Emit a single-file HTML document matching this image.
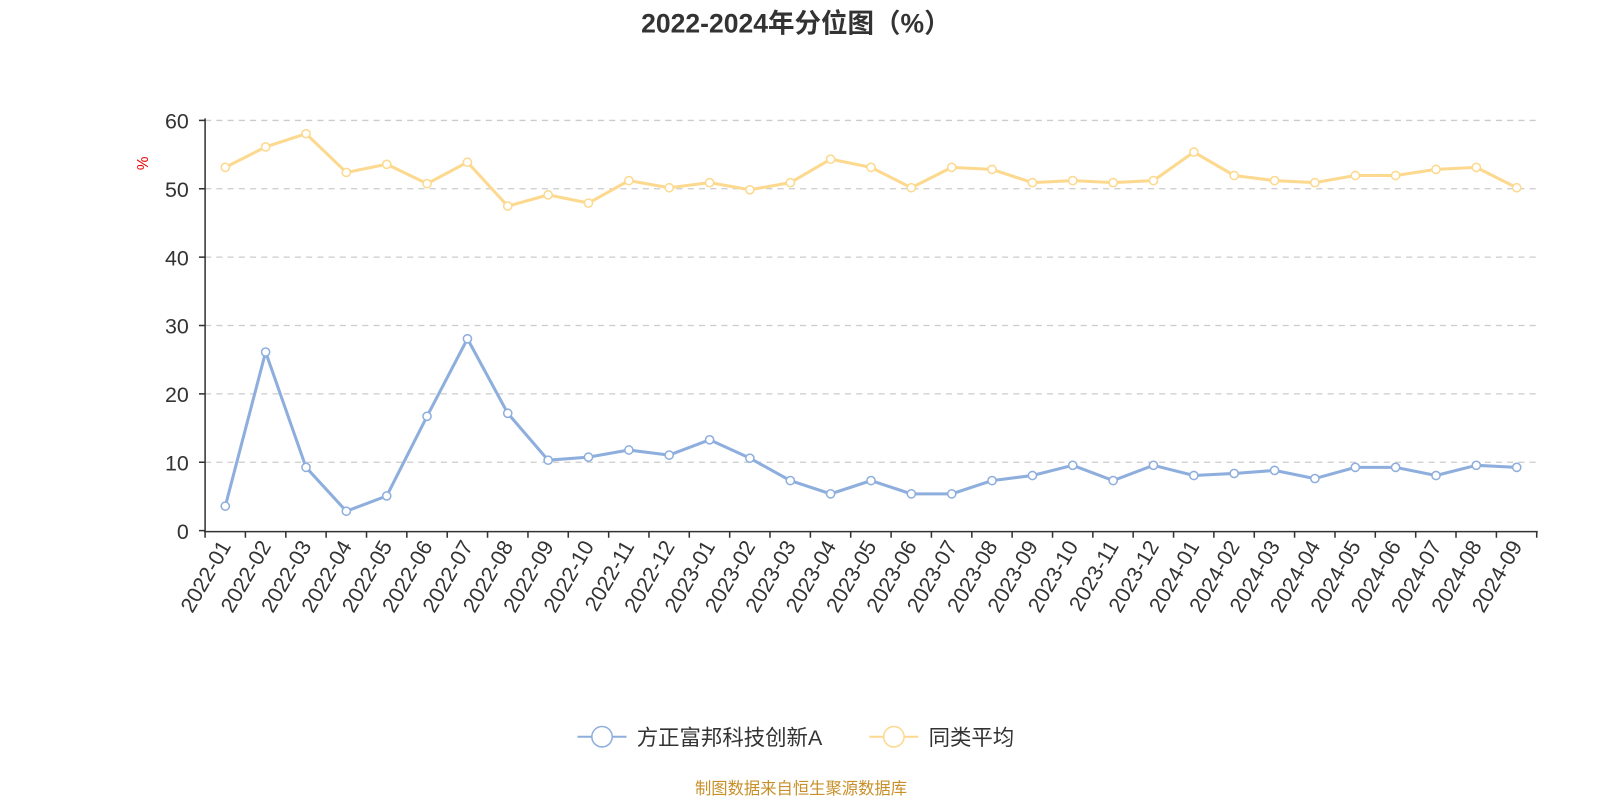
<!DOCTYPE html>
<html><head><meta charset="utf-8"><style>
html,body{margin:0;padding:0;background:#fff;}
svg{display:block;font-family:"Liberation Sans","Noto Sans CJK SC",sans-serif;}
</style></head><body>
<svg width="1600" height="800" xmlns="http://www.w3.org/2000/svg">
<defs>
<marker id="mb" markerUnits="userSpaceOnUse" markerWidth="12" markerHeight="12" refX="6" refY="6"><circle cx="6" cy="6" r="4" fill="#fff" stroke="#8eaedd" stroke-width="1.5"/></marker>
<marker id="my" markerUnits="userSpaceOnUse" markerWidth="12" markerHeight="12" refX="6" refY="6"><circle cx="6" cy="6" r="4" fill="#fff" stroke="#fcd98e" stroke-width="1.5"/></marker>
</defs>
<g transform="scale(1.0204)">
<text x="780" y="32" text-anchor="middle" font-size="26" font-weight="bold" fill="#333">2022-2024年分位图（%）</text>
<text x="145" y="160" font-size="15" fill="#e00" transform="rotate(-90 145 160)" text-anchor="middle">%</text>
<g stroke="#ccc" stroke-dasharray="6,5" stroke-width="1.3">
<line x1="201" x2="1506" y1="453" y2="453"/><line x1="201" x2="1506" y1="386" y2="386"/><line x1="201" x2="1506" y1="319" y2="319"/><line x1="201" x2="1506" y1="252" y2="252"/><line x1="201" x2="1506" y1="185" y2="185"/><line x1="201" x2="1506" y1="118" y2="118"/>
</g>
<g font-size="21" fill="#333" text-anchor="end">
<text x="185" y="528">0</text><text x="185" y="461">10</text><text x="185" y="394">20</text><text x="185" y="327">30</text><text x="185" y="260">40</text><text x="185" y="193">50</text><text x="185" y="126">60</text>
</g>
<g stroke="#333" stroke-width="1.5">
<line x1="195" x2="201" y1="520" y2="520"/><line x1="195" x2="201" y1="453" y2="453"/><line x1="195" x2="201" y1="386" y2="386"/><line x1="195" x2="201" y1="319" y2="319"/><line x1="195" x2="201" y1="252" y2="252"/><line x1="195" x2="201" y1="185" y2="185"/><line x1="195" x2="201" y1="118" y2="118"/>
<line x1="201" x2="201" y1="116" y2="521"/>
<line x1="200" x2="1507" y1="521" y2="521"/>
<path d="M201 521v6M240.5 521v6M280.1 521v6M319.6 521v6M359.2 521v6M398.7 521v6M438.3 521v6M477.8 521v6M517.4 521v6M556.9 521v6M596.5 521v6M636 521v6M675.5 521v6M715.1 521v6M754.6 521v6M794.2 521v6M833.7 521v6M873.3 521v6M912.8 521v6M952.4 521v6M991.9 521v6M1031.5 521v6M1071 521v6M1110.5 521v6M1150.1 521v6M1189.6 521v6M1229.2 521v6M1268.7 521v6M1308.3 521v6M1347.8 521v6M1387.4 521v6M1426.9 521v6M1466.5 521v6M1506 521v6"/>
</g>
<g font-size="21" fill="#333" text-anchor="end">
<text transform="translate(227,535) rotate(-60)">2022-01</text>
<text transform="translate(266.3,535) rotate(-60)">2022-02</text>
<text transform="translate(305.9,535) rotate(-60)">2022-03</text>
<text transform="translate(345.4,535) rotate(-60)">2022-04</text>
<text transform="translate(385,535) rotate(-60)">2022-05</text>
<text transform="translate(424.5,535) rotate(-60)">2022-06</text>
<text transform="translate(464.1,535) rotate(-60)">2022-07</text>
<text transform="translate(503.6,535) rotate(-60)">2022-08</text>
<text transform="translate(543.2,535) rotate(-60)">2022-09</text>
<text transform="translate(582.7,535) rotate(-60)">2022-10</text>
<text transform="translate(622.3,535) rotate(-60)">2022-11</text>
<text transform="translate(661.8,535) rotate(-60)">2022-12</text>
<text transform="translate(701.4,535) rotate(-60)">2023-01</text>
<text transform="translate(740.9,535) rotate(-60)">2023-02</text>
<text transform="translate(780.5,535) rotate(-60)">2023-03</text>
<text transform="translate(820,535) rotate(-60)">2023-04</text>
<text transform="translate(859.6,535) rotate(-60)">2023-05</text>
<text transform="translate(899.1,535) rotate(-60)">2023-06</text>
<text transform="translate(938.7,535) rotate(-60)">2023-07</text>
<text transform="translate(978.2,535) rotate(-60)">2023-08</text>
<text transform="translate(1017.8,535) rotate(-60)">2023-09</text>
<text transform="translate(1057.3,535) rotate(-60)">2023-10</text>
<text transform="translate(1096.9,535) rotate(-60)">2023-11</text>
<text transform="translate(1136.4,535) rotate(-60)">2023-12</text>
<text transform="translate(1176,535) rotate(-60)">2024-01</text>
<text transform="translate(1215.5,535) rotate(-60)">2024-02</text>
<text transform="translate(1255.1,535) rotate(-60)">2024-03</text>
<text transform="translate(1294.6,535) rotate(-60)">2024-04</text>
<text transform="translate(1334.2,535) rotate(-60)">2024-05</text>
<text transform="translate(1373.7,535) rotate(-60)">2024-06</text>
<text transform="translate(1413.3,535) rotate(-60)">2024-07</text>
<text transform="translate(1452.8,535) rotate(-60)">2024-08</text>
<text transform="translate(1492.4,535) rotate(-60)">2024-09</text>
</g>
<polyline fill="none" stroke="#fcd98e" stroke-width="3" stroke-linejoin="round" marker-start="url(#my)" marker-mid="url(#my)" marker-end="url(#my)" points="220.8,164 260.3,144 299.9,131 339.4,169 379,161 418.5,180 458.1,159 497.6,202 537.2,191 576.7,199 616.3,177 655.8,184 695.4,179 734.9,186 774.5,179 814,156 853.6,164 893.1,184 932.7,164 972.2,166 1011.8,179 1051.3,177 1090.9,179 1130.4,177 1170,149 1209.5,172 1249.1,177 1288.6,179 1328.2,172 1367.7,172 1407.3,166 1446.8,164 1486.4,184"/>
<polyline fill="none" stroke="#8eaedd" stroke-width="3" stroke-linejoin="round" marker-start="url(#mb)" marker-mid="url(#mb)" marker-end="url(#mb)" points="220.8,496 260.3,345 299.9,458 339.4,501 379,486 418.5,408 458.1,332 497.6,405 537.2,451 576.7,448 616.3,441 655.8,446 695.4,431 734.9,449 774.5,471 814,484 853.6,471 893.1,484 932.7,484 972.2,471 1011.8,466 1051.3,456 1090.9,471 1130.4,456 1170,466 1209.5,464 1249.1,461 1288.6,469 1328.2,458 1367.7,458 1407.3,466 1446.8,456 1486.4,458"/>
<line x1="566" y1="722" x2="614" y2="722" stroke="#8eaedd" stroke-width="2"/>
<circle cx="590" cy="722" r="10" fill="#fff" stroke="#8eaedd" stroke-width="1.5"/>
<text x="624" y="730" font-size="21" fill="#333">方正富邦科技创新A</text>
<line x1="852" y1="722" x2="900" y2="722" stroke="#fcd98e" stroke-width="2"/>
<circle cx="876" cy="722" r="10" fill="#fff" stroke="#fcd98e" stroke-width="1.5"/>
<text x="910" y="730" font-size="21" fill="#333">同类平均</text>
<text x="785" y="778" text-anchor="middle" font-size="16" fill="#c8902a">制图数据来自恒生聚源数据库</text>
</g>
</svg>
</body></html>
